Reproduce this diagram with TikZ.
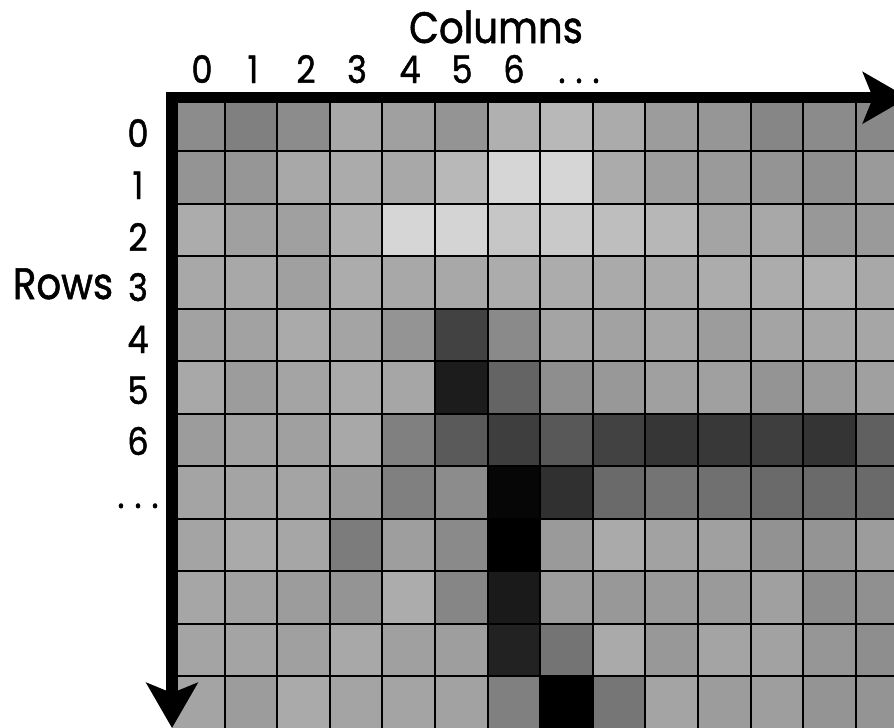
\documentclass[tikz,border=0pt]{standalone}
\usepackage{fontspec}
\setmainfont{Poppins}[FakeStretch=0.88, FakeBold=1.2]
\usetikzlibrary{arrows.meta}
\tikzset{
  gridline/.style={draw=black, line width=2pt},
  axisline/.style={draw=black, line width=11.5pt, line join=miter},
  biglab/.style={font=\fontsize{44}{50}\selectfont, inner sep=0pt, anchor=base},
  diglab/.style={font=\fontsize{38}{44}\selectfont, inner sep=0pt, anchor=base},
  bigtip/.tip={Stealth[length=45pt, width=51pt, inset=10pt]}
}
\begin{document}
\begin{tikzpicture}[x=1pt, y=-1pt]
\useasboundingbox (0,0) rectangle (894,728);
\fill[white] (0,0) rectangle (894,728);
\clip (0,0) rectangle (894,728);
\begin{scope}[shift={(172,98.5)}, x=52.6pt, y=-52.5pt]
  \foreach \rowvals [count=\r from 0] in {
    {140,128,140,168,160,148,176,184,171,156,150,134,139,136},
    {148,150,168,171,168,184,214,214,171,158,154,148,143,154},
    {172,160,160,176,214,212,198,201,190,183,164,168,152,154},
    {168,168,160,172,168,168,172,172,170,170,172,172,176,168},
    {162,162,170,164,148,66,138,164,162,166,156,164,166,166},
    {168,156,164,170,166,28,100,142,152,160,160,148,154,160},
    {156,162,160,168,128,90,62,88,66,54,56,62,52,96},
    {164,164,164,154,128,140,6,48,106,116,112,106,106,106},
    {164,170,166,124,158,138,0,154,170,162,160,146,148,156},
    {166,162,156,148,172,134,26,156,152,154,154,160,140,144},
    {164,164,160,168,160,158,34,116,170,152,164,162,150,142},
    {164,156,170,164,164,162,128,0,118,164,156,158,148,148}} {
    \foreach \v [count=\c from 0] in \rowvals {
      \definecolor{cellc}{RGB}{\v,\v,\v}
      \fill[cellc] (\c,\r) rectangle ++(1,1);
    }
  }
  \foreach \c in {1,...,14} \draw[gridline] (\c,0) -- (\c,12.2);
  \foreach \r in {1,...,12} \draw[gridline] (0,\r) -- (14.2,\r);
\end{scope}
\coordinate (O) at (172,97.7);
\coordinate (xend) at (908,97.7);
\coordinate (yend) at (172,728);
\draw[axisline, {bigtip}-{bigtip}] (yend) -- (O) -- (xend);
\node[biglab] (coltitle) at (496,43) {Columns};
\foreach \d/\xx in {0/202,1/253,2/306,3/357,4/410,5/462,6/514}
  \node[diglab] (c\d) at (\xx,83) {\d};
\node[diglab] (cdots) at (579,83) {.\kern10pt.\kern10pt.};
\node[biglab] (rowtitle) at (63,299) {Rows};
\foreach \d/\yy in {0/147,1/199,2/251,3/301,4/353,5/404,6/455}
  \node[diglab] (r\d) at (138,\yy) {\d};
\node[diglab] (rdots) at (138,508) {.\kern10pt.\kern10pt.};
\end{tikzpicture}
\end{document}
